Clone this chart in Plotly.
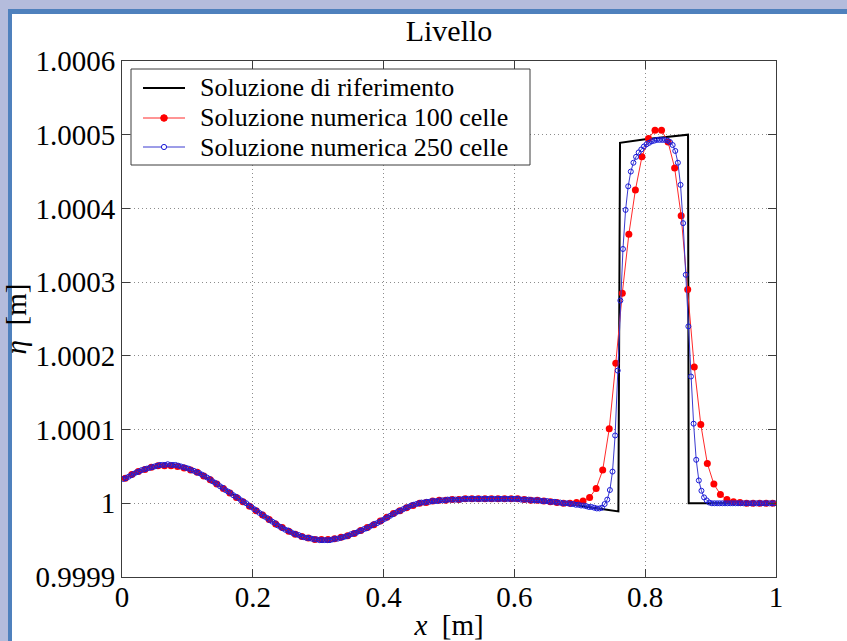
import plotly.graph_objects as go

# ---------------- data ----------------
# water level eta [m]; values stored as deviation from 1 m, in micrometres
eta_base = 1.0

n_100 = 100
d_eta_100_um = [
    34, 39, 43, 46, 49, 51, 51, 51, 50, 48,
    45, 42, 37, 32, 26, 20, 14, 8, 2, -4,
    -10, -16, -22, -28, -33, -38, -42, -45, -47, -49,
    -49, -49, -48, -46, -44, -41, -37, -33, -29, -24,
    -19, -14, -10, -6, -3, 0, 1, 3, 4, 4,
    5, 5, 6, 6, 6, 6, 6, 6, 6, 6,
    6, 5, 4, 4, 3, 2, 1, 0, 0, 1,
    3, 8, 20, 45, 101, 190, 285, 365, 425, 470,
    495, 506, 506, 490, 455, 390, 290, 185, 107, 54,
    26, 12, 5, 2, 1, 0, 0, 0, 0, 0,
]

n_250 = 250
d_eta_250_um = [
    33, 34, 36, 38, 40, 42, 43, 45, 46, 47,
    48, 49, 50, 51, 52, 52, 52, 53, 52, 52,
    52, 51, 50, 49, 48, 47, 45, 44, 42, 41,
    39, 37, 35, 33, 30, 28, 26, 23, 21, 18,
    16, 14, 11, 9, 7, 4, 2, 0, -3, -5,
    -8, -10, -13, -15, -18, -20, -23, -25, -27, -30,
    -32, -34, -36, -37, -39, -41, -42, -43, -45, -46,
    -47, -47, -48, -49, -49, -50, -50, -50, -50, -50,
    -49, -48, -48, -47, -46, -45, -44, -42, -41, -40,
    -38, -37, -35, -34, -32, -30, -28, -27, -25, -23,
    -21, -19, -17, -15, -13, -11, -10, -8, -6, -5,
    -3, -2, -1, 0, 1, 1, 2, 2, 3, 3,
    3, 4, 4, 4, 5, 5, 5, 5, 5, 5,
    6, 6, 6, 6, 6, 6, 6, 6, 6, 6,
    6, 6, 6, 6, 6, 6, 6, 6, 6, 6,
    6, 6, 5, 5, 5, 5, 4, 4, 4, 4,
    3, 3, 3, 2, 2, 2, 1, 1, 0, 0,
    0, -1, -1, -2, -2, -3, -3, -4, -5, -5,
    -6, -7, -7, -6, -1, 5, 18, 43, 92, 180,
    275, 345, 398, 430, 450, 462, 470, 476, 480, 484,
    487, 489, 491, 492, 493, 493, 493, 493, 492, 490,
    486, 478, 462, 432, 380, 310, 240, 172, 108, 59,
    31, 17, 8, 4, 1, 0, 0, 0, 0, 0,
    0, 0, 0, 0, 0, 0, 0, 0, 0, 0,
    0, 0, 0, 0, 0, 0, 0, 0, 0, 0,
]

x_ref = [0.00, 0.02, 0.04, 0.06, 0.08, 0.10, 0.12, 0.14, 0.16, 0.18,
         0.20, 0.22, 0.24, 0.26, 0.28, 0.30, 0.32, 0.34, 0.36, 0.38,
         0.40, 0.42, 0.44, 0.46, 0.48, 0.50, 0.52, 0.54, 0.56, 0.58,
         0.60, 0.62, 0.64, 0.66, 0.68, 0.70, 0.72, 0.74, 0.759, 0.7615,
         0.80, 0.8655, 0.8665, 1.00]
d_eta_ref_um = [32, 41, 48, 52, 52, 47, 40, 29, 17, 6,
                -6, -19, -31, -40, -46, -49, -49, -45, -39, -31,
                -22, -12, -4, 1, 3, 5, 6, 6, 6, 6,
                6, 5, 4, 2, 0, -3, -6, -9, -11, 489,
                494, 500, 0, 0]

x_ticks = [0, 0.2, 0.4, 0.6, 0.8, 1.0]
x_ticktext = ["0", "0.2", "0.4", "0.6", "0.8", "1"]
y_ticks = [0.9999, 1.0, 1.0001, 1.0002, 1.0003, 1.0004, 1.0005, 1.0006]
y_ticktext = ["0.9999", "1", "1.0001", "1.0002", "1.0003", "1.0004", "1.0005", "1.0006"]

names = ["Soluzione di riferimento", "Soluzione numerica 100 celle", "Soluzione numerica 250 celle"]
colors_line = ["black", "#ff2a2a", "#3a3ad0"]
colors_marker = [None, "#ff0000", "#1a1ad8"]

# ---------------- derived coordinates ----------------
x_100 = [(i + 0.5) / n_100 for i in range(n_100)]
x_250 = [(i + 0.5) / n_250 for i in range(n_250)]
eta_100 = [eta_base + d * 1e-6 for d in d_eta_100_um]
eta_250 = [eta_base + d * 1e-6 for d in d_eta_250_um]
eta_ref = [eta_base + d * 1e-6 for d in d_eta_ref_um]

FONT = "Liberation Serif, Times New Roman, serif"

fig = go.Figure()
fig.add_trace(go.Scatter(x=x_ref, y=eta_ref, mode="lines", name=names[0],
                         line=dict(color=colors_line[0], width=2)))
fig.add_trace(go.Scatter(x=x_100, y=eta_100, mode="lines+markers", name=names[1],
                         line=dict(color=colors_line[1], width=1),
                         marker=dict(symbol="circle", size=7, color=colors_marker[1])))
fig.add_trace(go.Scatter(x=x_250, y=eta_250, mode="lines+markers", name=names[2],
                         line=dict(color=colors_line[2], width=1),
                         marker=dict(symbol="circle-open", size=5, color=colors_marker[2],
                                     line=dict(width=1))))

# plot area: l=122, r=71, t=61, b=64  -> 654 x 516 px
PW, PH = 654.0, 516.0

def px_x(p):
    return (p - 122) / PW

def px_y(p):
    return (577 - p) / PH

shapes = [
    dict(type="rect", xref="paper", yref="paper", layer="below",
         x0=px_x(8), x1=px_x(860), y0=px_y(660), y1=px_y(9),
         fillcolor="#4f81bd", line=dict(width=0)),
    dict(type="rect", xref="paper", yref="paper", layer="below",
         x0=px_x(12), x1=px_x(860), y0=px_y(660), y1=px_y(14),
         fillcolor="white", line=dict(width=0)),
]

# ---- legend box drawn in paper space (MATLAB style) ----
annotations = []
leg_left, leg_right, leg_top, leg_bottom = 131, 530, 69, 165
row_y = [88, 118, 147]
shapes.append(dict(type="rect", xref="paper", yref="paper", layer="above",
                   x0=px_x(leg_left), x1=px_x(leg_right),
                   y0=px_y(leg_bottom), y1=px_y(leg_top),
                   fillcolor="white", line=dict(color="#3c3c3c", width=1)))
for k, (nm, ry) in enumerate(zip(names, row_y)):
    shapes.append(dict(type="line", xref="paper", yref="paper", layer="above",
                       x0=px_x(143), x1=px_x(185), y0=px_y(ry), y1=px_y(ry),
                       line=dict(color=colors_line[k], width=2 if k == 0 else 1)))
    if k == 1:
        r = 3.3
        shapes.append(dict(type="circle", xref="paper", yref="paper", layer="above",
                           x0=px_x(164 - r), x1=px_x(164 + r),
                           y0=px_y(ry + r), y1=px_y(ry - r),
                           fillcolor=colors_marker[1], line=dict(color=colors_marker[1], width=1)))
    elif k == 2:
        r = 2.6
        shapes.append(dict(type="circle", xref="paper", yref="paper", layer="above",
                           x0=px_x(164 - r), x1=px_x(164 + r),
                           y0=px_y(ry + r), y1=px_y(ry - r),
                           fillcolor="white", line=dict(color=colors_marker[2], width=1)))
    annotations.append(dict(text=nm, xref="paper", yref="paper",
                            x=px_x(198), y=px_y(ry), xanchor="left", yanchor="middle",
                            showarrow=False,
                            font=dict(family=FONT, size=26, color="black")))

axis_common = dict(
    showline=True, linecolor="#3c3c3c", linewidth=1, mirror="ticks",
    ticks="inside", ticklen=8, tickcolor="#3c3c3c", automargin=False,
    showgrid=True, gridcolor="#8c8c8c", griddash="1px,3px", gridwidth=1,
    zeroline=False, tickfont=dict(family=FONT, size=29, color="black"),
)

fig.update_layout(
    width=847, height=641,
    margin=dict(l=122, r=71, t=61, b=64),
    paper_bgcolor="#b4bcdc", plot_bgcolor="white",
    font=dict(family=FONT, color="black"),
    title=dict(text="Livello", x=449 / 847, xanchor="center",
               y=1 - 30 / 641, yanchor="middle",
               font=dict(family=FONT, size=30, color="black")),
    xaxis=dict(range=[0, 1], tickvals=x_ticks, ticktext=x_ticktext,
               ticklabelstandoff=-6,
               title=dict(text="<i>x</i>  [m]", font=dict(family=FONT, size=29), standoff=8),
               **axis_common),
    yaxis=dict(range=[0.9999, 1.0006], tickvals=y_ticks, ticktext=y_ticktext,
               title=dict(text="<i>η</i>  [m]", font=dict(family=FONT, size=29), standoff=2),
               **axis_common),
    shapes=shapes,
    annotations=annotations,
    showlegend=False,
)

fig.write_html("out.html")
